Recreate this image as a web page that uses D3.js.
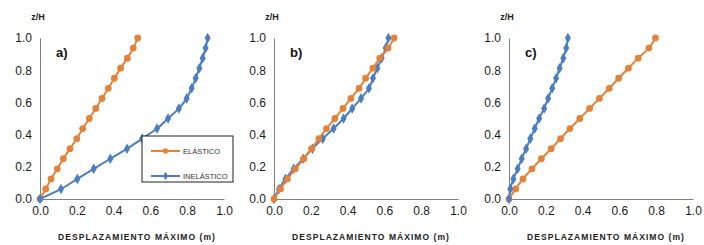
<!DOCTYPE html>
<html>
<head>
<meta charset="utf-8">
<script src="https://cdn.jsdelivr.net/npm/d3@7"></script>
<style>
  body { margin: 0; background: #fff; }
  svg { font-family: "Liberation Sans", Arial, sans-serif; }
</style>
</head>
<body>
<div id="chart"></div>
<script>
// heights z/H (17 levels)
var levels = [0, 0.0625, 0.125, 0.1875, 0.25, 0.3125, 0.375, 0.4375, 0.5,
  0.5625, 0.625, 0.6875, 0.75, 0.8125, 0.875, 0.9375, 1.0]

// max displacement (m)
var elasticA = [0, 0.031, 0.06, 0.094, 0.127, 0.163, 0.2, 0.232, 0.268, 0.303, 0.337, 0.371, 0.404, 0.438, 0.475, 0.507, 0.531]
var inelasticA = [0, 0.114, 0.203, 0.292, 0.382, 0.473, 0.555, 0.636, 0.696, 0.755, 0.797, 0.824, 0.846, 0.866, 0.884, 0.9, 0.911]
var elasticB = [0, 0.035, 0.073, 0.116, 0.162, 0.204, 0.244, 0.285, 0.331, 0.375, 0.418, 0.462, 0.498, 0.538, 0.575, 0.62, 0.653]
var inelasticB = [0, 0.027, 0.062, 0.107, 0.158, 0.209, 0.265, 0.324, 0.378, 0.425, 0.473, 0.516, 0.538, 0.562, 0.585, 0.607, 0.622]
var elasticC = [0, 0.036, 0.076, 0.125, 0.176, 0.229, 0.28, 0.331, 0.385, 0.438, 0.491, 0.545, 0.596, 0.649, 0.702, 0.76, 0.796]
var inelasticC = [0, 0.007, 0.024, 0.047, 0.069, 0.093, 0.116, 0.14, 0.164, 0.191, 0.213, 0.235, 0.256, 0.275, 0.295, 0.311, 0.32]

var panelNames = ["a)", "b)", "c)"]
var ticks = [0, 0.2, 0.4, 0.6, 0.8, 1.0]
var seriesNames = ["ELÁSTICO", "INELÁSTICO"]

var orange = "#e5823a", blue = "#4a7ec0"

var W = 704, H = 245
var svg = d3.select("#chart").append("svg")
  .attr("width", W).attr("height", H)

var panels = [
  {left: 40, el: elasticA, inel: inelasticA},
  {left: 274, el: elasticB, inel: inelasticB},
  {left: 509, el: elasticC, inel: inelasticC}
]
var plotTop = 38, plotBottom = 199, pw = 184

panels.forEach(function (p, k) {
  var g = svg.append("g")
  var x = d3.scaleLinear().domain([0, 1]).range([p.left, p.left + pw])
  var y = d3.scaleLinear().domain([0, 1]).range([plotBottom, plotTop])

  // axes
  var xa = g.append("g").attr("transform", "translate(0," + plotBottom + ")")
    .call(d3.axisBottom(x).tickValues(ticks).tickSize(0).tickPadding(7).tickFormat(d3.format(".1f")))
  var ya = g.append("g").attr("transform", "translate(" + p.left + ",0)")
    .call(d3.axisLeft(y).tickValues(ticks).tickSize(0).tickPadding(8).tickFormat(d3.format(".1f")))
  ;[xa, ya].forEach(function (a) {
    a.select(".domain").attr("stroke", "#7f7f7f").attr("stroke-width", 1)
    a.selectAll("text").attr("font-size", 12).attr("fill", "#1a1a1a")
      .attr("font-family", "Liberation Sans, Arial, sans-serif")
  })

  var line = d3.line()
    .x(function (d) { return x(d[0]) })
    .y(function (d) { return y(d[1]) })
    .curve(d3.curveCatmullRom.alpha(0.5))

  var sEl = p.el.map(function (v, i) { return [v, levels[i]] })
  var sIn = p.inel.map(function (v, i) { return [v, levels[i]] })

  function drawSeries(pts, color, shape) {
    g.append("path").datum(pts).attr("d", line)
      .attr("fill", "none").attr("stroke", color).attr("stroke-width", 2)
    g.selectAll(null).data(pts).join("path")
      .attr("transform", function (d) { return "translate(" + x(d[0]) + "," + y(d[1]) + ")" })
      .attr("d", d3.symbol().type(shape).size(shape === d3.symbolCircle ? 36 : 32))
      .attr("fill", color)
  }
  if (k === 1) {
    drawSeries(sIn, blue, d3.symbolDiamond)
    drawSeries(sEl, orange, d3.symbolCircle)
  } else {
    drawSeries(sEl, orange, d3.symbolCircle)
    drawSeries(sIn, blue, d3.symbolDiamond)
  }

  g.append("text").attr("x", p.left - 2).attr("y", 20)
    .attr("text-anchor", "middle").attr("font-size", 9).attr("font-weight", "bold")
    .attr("fill", "#222").text("z/H")
  g.append("text").attr("x", p.left + 16).attr("y", 57)
    .attr("font-size", 13).attr("font-weight", "bold").attr("fill", "#111")
    .text(panelNames[k])
  g.append("text").attr("x", p.left + 97).attr("y", 240)
    .attr("text-anchor", "middle").attr("font-size", 8.5).attr("font-weight", "bold")
    .attr("letter-spacing", "1.05px").attr("fill", "#222")
    .text("DESPLAZAMIENTO MÁXIMO (m)")

  // legend only in panel a
  if (k === 0) {
    var lg = g.append("g")
    lg.append("rect").attr("x", 142).attr("y", 136).attr("width", 91).attr("height", 46)
      .attr("fill", "#fff").attr("stroke", "#222").attr("stroke-width", 1)
    var cols = [orange, blue], shapes = [d3.symbolCircle, d3.symbolDiamond]
    seriesNames.forEach(function (name, i) {
      var yy = 151 + i * 25
      lg.append("line").attr("x1", 151).attr("x2", 180).attr("y1", yy).attr("y2", yy)
        .attr("stroke", cols[i]).attr("stroke-width", 2)
      lg.append("path").attr("transform", "translate(165.5," + yy + ")")
        .attr("d", d3.symbol().type(shapes[i]).size(22)).attr("fill", cols[i])
      lg.append("text").attr("x", 183).attr("y", yy + 3)
        .attr("font-size", 7.5).attr("fill", "#333").text(name)
    })
  }
})
</script>
</body>
</html>
